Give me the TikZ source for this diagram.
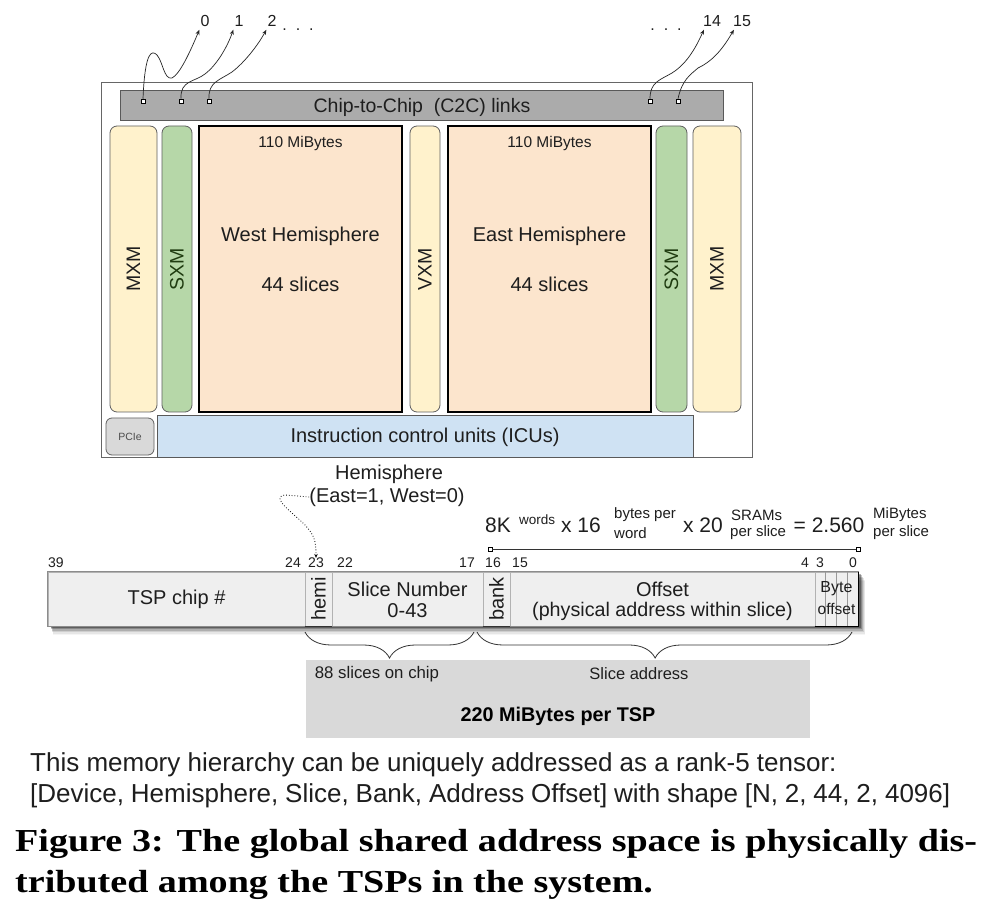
\documentclass[tikz,border=0pt]{standalone}
\usepackage{fontspec}
\setmainfont{Liberation Sans}
\newfontfamily\capfont[FakeStretch=1.19]{Liberation Serif}
\usetikzlibrary{decorations.pathreplacing,arrows.meta,calc}
\definecolor{mxmc}{HTML}{FFF2CC}
\definecolor{sxmc}{HTML}{B6D7A8}
\definecolor{hemic}{HTML}{FCE5CD}
\definecolor{icuc}{HTML}{CFE2F3}
\definecolor{c2cc}{HTML}{ABABAB}
\definecolor{pciec}{HTML}{D9D9D9}
\definecolor{barc}{HTML}{EFEFEF}
\definecolor{sumc}{HTML}{D9D9D9}
\definecolor{txt}{HTML}{1E1E1E}
\definecolor{sxmtxt}{HTML}{1F3B10}
\newcommand\fsz[1]{\fontsize{#1}{#1}\selectfont}
\begin{document}
\begin{tikzpicture}[x=1pt,y=-1pt,
  every node/.style={text=txt, inner sep=0pt},
  unitbox/.style={draw=gray!75!black, line width=0.8pt, rounded corners=7pt, minimum height=286pt},
  hemibox/.style={draw=black, line width=2pt, fill=hemic, minimum width=203pt, minimum height=286pt},
  linksq/.style={draw=black, fill=white, line width=0.5pt, minimum size=4pt},
  linkarrow/.style={-{Stealth[length=5pt,width=4pt]}, line width=0.7pt, black!85},
  numlbl/.style={font=\fsz{16pt}},
  bitlbl/.style={font=\fsz{14pt}},
  seg/.style={draw=gray!60, line width=0.8pt, fill=barc, minimum height=54pt},
  braceline/.style={decorate, decoration={brace, mirror, amplitude=26pt}, line width=0.8pt, black!80},
  small/.style={font=\fsz{15pt}, anchor=west}
]
\useasboundingbox (0,0) rectangle (994,917);
\fill[white] (0,0) rectangle (994,917);

% ---------- chip ----------
\node[draw=gray!80!black, line width=1pt, fill=white, minimum width=651pt, minimum height=374pt] (chip) at (426.5,270) {};
\node[draw=gray!70!black, line width=0.8pt, fill=c2cc, minimum width=603pt, minimum height=30pt] (c2c) at (421.5,105) {};
\node[font=\fsz{19.5pt}] (c2ctxt) at (422,107) {Chip-to-Chip\ \ (C2C) links};

\node[unitbox, fill=mxmc, minimum width=47pt] (mxmw) at (133.5,269) {};
\node[rotate=90, font=\fsz{19.5pt}] at (mxmw) {MXM};
\node[unitbox, fill=sxmc, minimum width=30pt] (sxmw) at (177,269) {};
\node[rotate=90, font=\fsz{19.5pt}, text=sxmtxt] at (sxmw) {SXM};
\node[hemibox] (west) at (300.5,269) {};
\node[unitbox, fill=mxmc, minimum width=30pt] (vxm) at (425,269) {};
\node[rotate=90, font=\fsz{19.5pt}] at (vxm) {VXM};
\node[hemibox] (east) at (549.5,269) {};
\node[unitbox, fill=sxmc, minimum width=31pt] (sxme) at (671.5,269) {};
\node[rotate=90, font=\fsz{19.5pt}, text=sxmtxt] at (sxme) {SXM};
\node[unitbox, fill=mxmc, minimum width=48pt] (mxme) at (717,269) {};
\node[rotate=90, font=\fsz{19.5pt}] at (mxme) {MXM};

\node[font=\fsz{15.5pt}] (wmib) at (300.5,143) {110 MiBytes};
\node[font=\fsz{20pt}] (wname) at (300.5,236) {West Hemisphere};
\node[font=\fsz{20pt}] (wsl) at (300.5,284) {44 slices};
\node[font=\fsz{15.5pt}] (emib) at (549.5,143) {110 MiBytes};
\node[font=\fsz{20pt}] (ename) at (549.5,236) {East Hemisphere};
\node[font=\fsz{20pt}] (esl) at (549.5,284) {44 slices};

\node[draw=gray!70!black, line width=0.8pt, fill=icuc, minimum width=536pt, minimum height=42pt] (icu) at (425,436) {};
\node[font=\fsz{20pt}] at ($(icu.center)+(0,1)$) {Instruction control units (ICUs)};
\node[draw=gray!75!black, line width=0.8pt, fill=pciec, rounded corners=6pt, minimum width=48pt, minimum height=37pt] (pcie) at (130,436.5) {};
\node[font=\fsz{10.5pt}, text=black!70] at (pcie) {PCIe};

% ---------- C2C links ----------
\node[linksq] (s0) at (143,101) {};
\node[linksq] (s1) at (181,101) {};
\node[linksq] (s2) at (209,101) {};
\node[linksq] (s14) at (650,101) {};
\node[linksq] (s15) at (678,101) {};
\node[numlbl] (l0) at (205,21) {0};
\node[numlbl] (l1) at (239,21) {1};
\node[numlbl] (l2) at (272,21) {2};
\node[numlbl] (l14) at (712,21) {14};
\node[numlbl] (l15) at (742,21) {15};
\node[numlbl] (dotsa) at (298,30) {.\ \ .\ \ .};
\node[numlbl] (dotsb) at (666,30) {.\ \ .\ \ .};
\draw[linkarrow] (s0.north) .. controls (145,50) and (152,50) .. (157,55) .. controls (163,62) and (164,80) .. (172,78) .. controls (180,74) and (190,52) .. ([shift={(-1pt,-3pt)}]l0.south west);
\draw[linkarrow] (s1.north) .. controls (180,80) and (195,82) .. (205,74) .. controls (218,64) and (228,45) .. ([shift={(-1pt,-3pt)}]l1.south west);
\draw[linkarrow] (s2.north) .. controls (208,82) and (220,80) .. (232,72) .. controls (245,62) and (258,45) .. ([shift={(-1pt,-3pt)}]l2.south west);
\draw[linkarrow] (s14.north) .. controls (650,82) and (660,80) .. (672,73) .. controls (688,63) and (697,45) .. ([shift={(1pt,-3pt)}]l14.south west);
\draw[linkarrow] (s15.north) .. controls (682,80) and (690,75) .. (698,68) .. controls (715,60) and (725,45) .. ([shift={(1pt,-3pt)}]l15.south west);

% ---------- hemisphere label ----------
\node[font=\fsz{20pt}] (hemt) at (389,474) {Hemisphere};
\node[font=\fsz{20pt}] (hemv) at (387,497) {(East=1, West=0)};

% ---------- slice size formula ----------
\node[font=\fsz{21pt}] (f8k) at (498,525) {8K};
\node[small, font=\fsz{13.5pt}] (fwords) at (519,520) {words};
\node[font=\fsz{21pt}] (fx16) at (581,525) {x 16};
\node[small] (fbpw) at (614,515) {bytes per};
\node[small] (fword) at (614,533) {word};
\node[font=\fsz{21pt}] (fx20) at (703,525) {x 20};
\node[small] (fsram) at (731,515) {SRAMs};
\node[small] (fpers) at (730,533) {per slice};
\node[font=\fsz{21pt}] (feq) at (829,525) {= 2.560};
\node[small] (fmib) at (873,515) {MiBytes};
\node[small] (fpers2) at (873,533) {per slice};
\node[draw=black, fill=white, line width=0.5pt, minimum size=4pt] (rl) at (490,549) {};
\node[draw=black, fill=white, line width=0.5pt, minimum size=4pt] (rr) at (858,549) {};
\draw[line width=0.7pt, black!80] (rl) -- (rr);

% ---------- address bar ----------
\foreach \i/\o in {1/0.3,2/0.22,3/0.15,4/0.1,5/0.06,6/0.04}
  \fill[black, opacity=\o] (50+\i*0.5,572+\i*1.5) rectangle (860+\i*0.9,626+\i*1.5);
\node[seg, minimum width=257pt] (tsp) at (176.5,599) {};
\node[seg, minimum width=27pt] (hemi) at (318.5,599) {};
\node[seg, minimum width=151pt] (slice) at (407.5,599) {};
\node[seg, minimum width=27pt] (bank) at (496.5,599) {};
\node[seg, minimum width=305pt] (offs) at (662.5,599) {};
\node[seg, minimum width=43pt] (byte) at (836.5,599) {};
\draw[gray!90, line width=1.2pt] (tsp.north west) rectangle (byte.south east);
\draw[black!80, line width=0.6pt] (hemi.south west) -- (hemi.south east);
\draw[black!80, line width=0.6pt] (bank.south west) -- (bank.south east);
\foreach \f in {0.25,0.5,0.75}
  \draw[gray!80, line width=0.6pt] ($(byte.north west)!\f!(byte.north east)$) -- ($(byte.south west)!\f!(byte.south east)$);
\draw[black, line width=1.5pt] (byte.south west) -- (byte.south east) -- (byte.north east);

\node[font=\fsz{20pt}] at (tsp) {TSP chip \#};
\node[font=\fsz{20pt}, rotate=90] at (hemi) {hemi};
\node[font=\fsz{20pt}] at ($(slice.center)+(0,-10)$) {Slice Number};
\node[font=\fsz{20pt}] at ($(slice.center)+(0,12)$) {0-43};
\node[font=\fsz{20pt}, rotate=90] at (bank) {bank};
\node[font=\fsz{20pt}] at ($(offs.center)+(0,-10)$) {Offset};
\node[font=\fsz{19.7pt}] at ($(offs.center)+(0,12)$) {(physical address within slice)};
\node[font=\fsz{16pt}] at ($(byte.center)+(0,-10)$) {Byte};
\node[font=\fsz{15.5pt}] at ($(byte.center)+(0,10)$) {offset};

% bit numbers
\node[bitlbl] (b39) at (56,563) {39};
\node[bitlbl] (b24) at (293,563) {24};
\node[bitlbl] (b23) at (316,563) {23};
\node[bitlbl] (b22) at (345,563) {22};
\node[bitlbl] (b17) at (467,563) {17};
\node[bitlbl] (b16) at (493,563) {16};
\node[bitlbl] (b15) at (520,563) {15};
\node[bitlbl] (b4) at (805,563) {4};
\node[bitlbl] (b3) at (820,563) {3};
\node[bitlbl] (b0) at (853,563) {0};

\draw[dotted, line width=0.8pt, -{Stealth[length=4pt,width=3.5pt]}] (hemv.west) -- (285,495) .. controls (270,497) and (292,512) .. (305,525) .. controls (314,535) and (316,540) .. (b23.north);

% braces
\coordinate (br1a) at (305,632);
\coordinate (br1b) at (474,632);
\coordinate (br2a) at (477,632);
\coordinate (br2b) at (852,632);
\draw[braceline] (br1a) -- (br1b);
\draw[braceline, decoration={aspect=0.475}] (br2a) -- (br2b);

% summary box
\node[fill=sumc, minimum width=504pt, minimum height=78pt] (sum) at (558,699) {};
\node[font=\fsz{16.8pt}] (s88) at (377,674) {88 slices on chip};
\node[font=\fsz{16.5pt}] (sadr) at (639,674) {Slice address};
\node[font=\bfseries\fsz{19.8pt}, text=black] (s220) at (558,716) {220 MiBytes per TSP};

% explanatory text
\node[anchor=base west, font=\fsz{26pt}] (t1) at (30,771) {This memory hierarchy can be uniquely addressed as a rank-5 tensor:};
\node[anchor=base west, font=\fsz{26pt}] (t2) at (30,802) {\makebox[920pt][s]{[Device, Hemisphere, Slice, Bank, Address Offset] with shape [N, 2, 44, 2, 4096]}};

% caption
\node[anchor=base west, font=\capfont\bfseries\fsz{32pt}, text=black] (c1) at (15,851) {\makebox[962pt][s]{Figure 3: The global shared address space is physically dis-}};
\node[anchor=base west, font=\capfont\bfseries\fsz{32pt}, text=black] (c2) at (15,892) {tributed among the TSPs in the system.};
\end{tikzpicture}
\end{document}
